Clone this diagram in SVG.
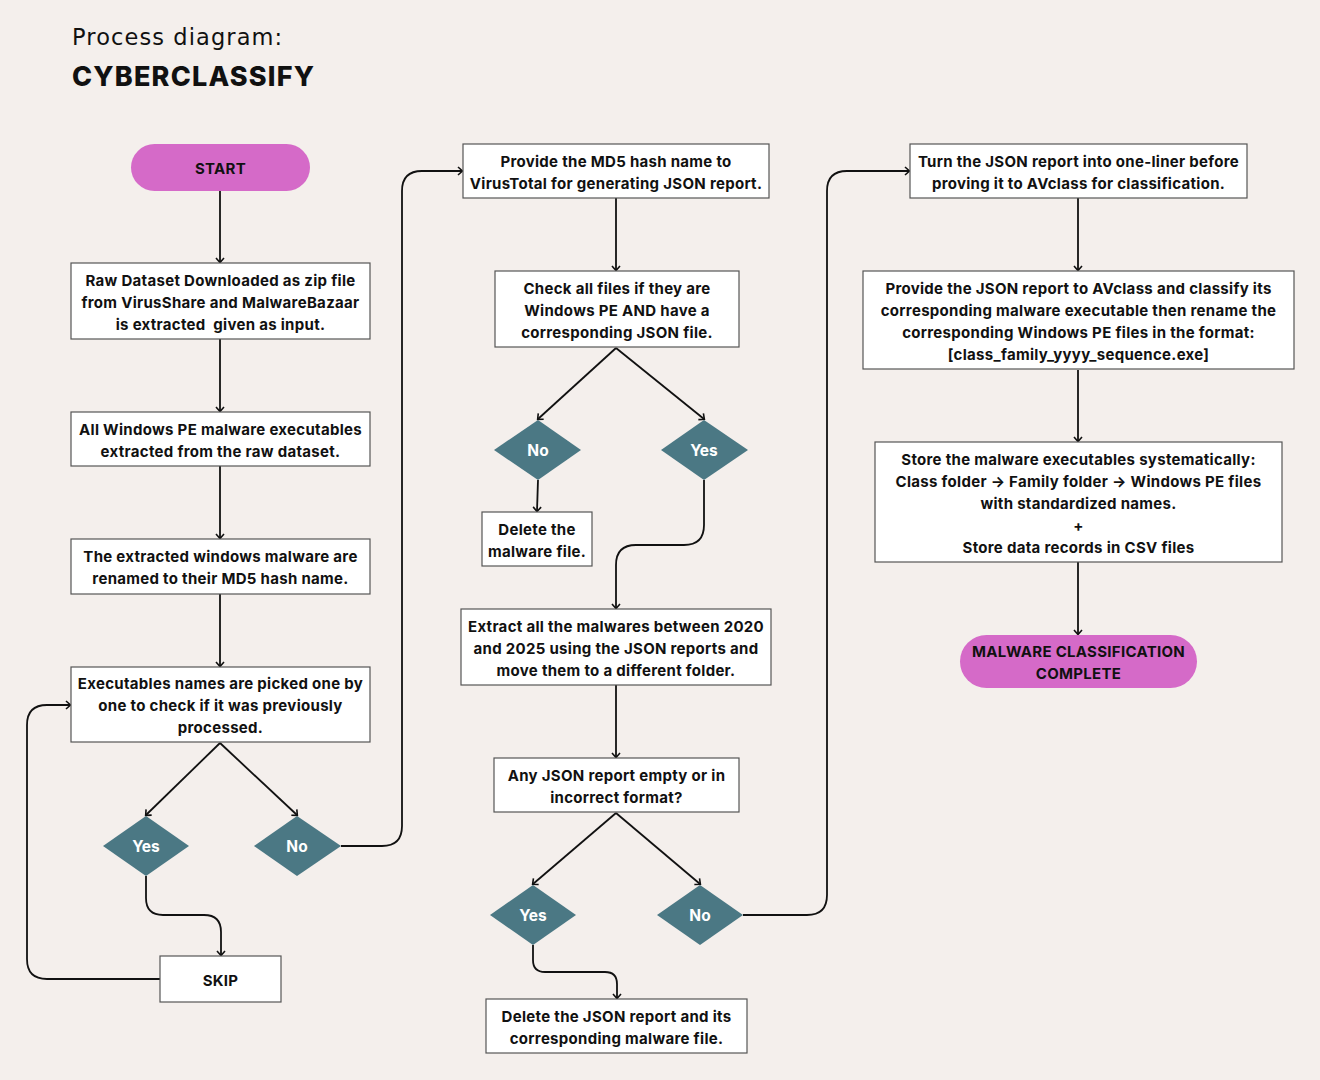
<svg xmlns="http://www.w3.org/2000/svg" width="1320" height="1080" viewBox="0 0 1320 1080">
<defs>
<marker id="arr" markerWidth="10" markerHeight="10" refX="5" refY="5" orient="auto" markerUnits="userSpaceOnUse">
<path d="M1,1 L5.5,5 L1,9" fill="none" stroke="#111" stroke-width="1.6"/>
</marker>
<style>
.bg{fill:#F4EFEC}
.box{fill:#FFFFFF;stroke:#555;stroke-width:1.2}
.pill{fill:#D56AC8}
.dia{fill:#4B7884}
.t{font-family:Inter,"Liberation Sans",sans-serif;font-weight:700;font-size:15px;letter-spacing:0.3px;fill:#111;text-anchor:middle;dominant-baseline:central}
.dt{font-family:Inter,"Liberation Sans",sans-serif;font-weight:700;font-size:15.5px;fill:#FFFFFF;text-anchor:middle;dominant-baseline:central}
.c{fill:none;stroke:#111;stroke-width:1.8;marker-end:url(#arr)}
</style>
</defs>
<rect class="bg" x="0" y="0" width="1320" height="1080"/>
<g id="title">
<text x="72" y="45" font-family="'DejaVu Sans',sans-serif" font-weight="400" font-size="22.5" fill="#111" letter-spacing="1.1">Process diagram:</text>
<text x="72" y="86" font-family="Inter,'Liberation Sans',sans-serif" font-weight="800" font-size="27" fill="#111" letter-spacing="1.2">CYBERCLASSIFY</text>
</g>
<g id="connectors">
<path class="c" d="M220,191 V262"/>
<path class="c" d="M220,339 V411"/>
<path class="c" d="M220,466 V538"/>
<path class="c" d="M220,594 V666"/>
<path class="c" d="M220,743 L146,815"/>
<path class="c" d="M220,743 L297,815"/>
<path class="c" d="M146,876 V898 Q146,915 163,915 H204 Q221,915 221,932 V955"/>
<path class="c" d="M160,979 H47 Q27,979 27,959 V725 Q27,705 47,705 H70"/>
<path class="c" d="M341,846 H382 Q402,846 402,826 V191 Q402,171 422,171 H462"/>
<path class="c" d="M616,198 V270"/>
<path class="c" d="M616,348 L538,419"/>
<path class="c" d="M616,348 L704,419"/>
<path class="c" d="M538,480 L537,511"/>
<path class="c" d="M704,480 V525 Q704,545 684,545 H636 Q616,545 616,565 V608"/>
<path class="c" d="M616,685 V757"/>
<path class="c" d="M616,813 L533,884"/>
<path class="c" d="M616,813 L700,884"/>
<path class="c" d="M533,945 V960 Q533,972 545,972 H605 Q617,972 617,984 V998"/>
<path class="c" d="M743,915 H807 Q827,915 827,895 V191 Q827,171 847,171 H909"/>
<path class="c" d="M1078,198 V270"/>
<path class="c" d="M1078,370 V441"/>
<path class="c" d="M1078,562 V634"/>
</g>
<g id="start">
<rect class="pill" x="131" y="144" width="179" height="47" rx="23.5"/>
<text class="t" x="220.5" y="168">START</text>
</g>
<g id="raw-dataset">
<rect class="box" x="71" y="263" width="299" height="76"/>
<text class="t" x="220.5" y="280">Raw Dataset Downloaded as zip file</text>
<text class="t" x="220.5" y="302">from VirusShare and MalwareBazaar</text>
<text class="t" x="220.5" y="324">is extracted&#160; given as input.</text>
</g>
<g id="extract-pe">
<rect class="box" x="71" y="412" width="299" height="54"/>
<text class="t" x="220.5" y="429">All Windows PE malware executables</text>
<text class="t" x="220.5" y="451">extracted from the raw dataset.</text>
</g>
<g id="rename-md5">
<rect class="box" x="71" y="539" width="299" height="55"/>
<text class="t" x="220.5" y="556">The extracted windows malware are</text>
<text class="t" x="220.5" y="578">renamed to their MD5 hash name.</text>
</g>
<g id="pick-names">
<rect class="box" x="71" y="667" width="299" height="75"/>
<text class="t" x="220.5" y="683">Executables names are picked one by</text>
<text class="t" x="220.5" y="705">one to check if it was previously</text>
<text class="t" x="220.5" y="727">processed.</text>
</g>
<g id="d1-yes">
<polygon class="dia" points="146,816 189,846 146,876 103,846"/>
<text class="dt" x="146" y="846">Yes</text>
</g>
<g id="d1-no">
<polygon class="dia" points="297,816 341,846 297,876 254,846"/>
<text class="dt" x="297" y="846">No</text>
</g>
<g id="skip">
<rect class="box" x="160" y="956" width="121" height="46"/>
<text class="t" x="220.5" y="980">SKIP</text>
</g>
<g id="virustotal">
<rect class="box" x="463" y="144" width="306" height="54"/>
<text class="t" x="616" y="161">Provide the MD5 hash name to</text>
<text class="t" x="616" y="183">VirusTotal for generating JSON report.</text>
</g>
<g id="check-files">
<rect class="box" x="495" y="271" width="244" height="76"/>
<text class="t" x="617" y="288">Check all files if they are</text>
<text class="t" x="617" y="310">Windows PE AND have a</text>
<text class="t" x="617" y="332">corresponding JSON file.</text>
</g>
<g id="d2-no">
<polygon class="dia" points="538,420 581,450 538,480 494,450"/>
<text class="dt" x="538" y="450">No</text>
</g>
<g id="d2-yes">
<polygon class="dia" points="704,420 748,450 704,480 661,450"/>
<text class="dt" x="704" y="450">Yes</text>
</g>
<g id="delete-malware">
<rect class="box" x="482" y="512" width="110" height="54"/>
<text class="t" x="537" y="529">Delete the</text>
<text class="t" x="537" y="551">malware file.</text>
</g>
<g id="extract-2020">
<rect class="box" x="461" y="609" width="310" height="76"/>
<text class="t" x="616" y="626">Extract all the malwares between 2020</text>
<text class="t" x="616" y="648">and 2025 using the JSON reports and</text>
<text class="t" x="616" y="670">move them to a different folder.</text>
</g>
<g id="json-empty">
<rect class="box" x="494" y="758" width="245" height="54"/>
<text class="t" x="616.5" y="775">Any JSON report empty or in</text>
<text class="t" x="616.5" y="797">incorrect format?</text>
</g>
<g id="d3-yes">
<polygon class="dia" points="533,885 576,915 533,945 490,915"/>
<text class="dt" x="533" y="915">Yes</text>
</g>
<g id="d3-no">
<polygon class="dia" points="700,885 743,915 700,945 657,915"/>
<text class="dt" x="700" y="915">No</text>
</g>
<g id="delete-json">
<rect class="box" x="486" y="999" width="261" height="54"/>
<text class="t" x="616.5" y="1016">Delete the JSON report and its</text>
<text class="t" x="616.5" y="1038">corresponding malware file.</text>
</g>
<g id="one-liner">
<rect class="box" x="910" y="144" width="337" height="54"/>
<text class="t" x="1078.5" y="161">Turn the JSON report into one-liner before</text>
<text class="t" x="1078.5" y="183">proving it to AVclass for classification.</text>
</g>
<g id="avclass">
<rect class="box" x="863" y="271" width="431" height="98"/>
<text class="t" x="1078.5" y="288">Provide the JSON report to AVclass and classify its</text>
<text class="t" x="1078.5" y="310">corresponding malware executable then rename the</text>
<text class="t" x="1078.5" y="332">corresponding Windows PE files in the format:</text>
<text class="t" x="1078.5" y="354">[class_family_yyyy_sequence.exe]</text>
</g>
<g id="store">
<rect class="box" x="875" y="442" width="407" height="120"/>
<text class="t" x="1078.5" y="459">Store the malware executables systematically:</text>
<text class="t" x="1078.5" y="481">Class folder → Family folder → Windows PE files</text>
<text class="t" x="1078.5" y="503">with standardized names.</text>
<text class="t" x="1078.5" y="525">+</text>
<text class="t" x="1078.5" y="547">Store data records in CSV files</text>
</g>
<g id="complete">
<rect class="pill" x="960" y="635" width="237" height="53" rx="26.5"/>
<text class="t" x="1078.5" y="651">MALWARE CLASSIFICATION</text>
<text class="t" x="1078.5" y="673">COMPLETE</text>
</g>
</svg>
